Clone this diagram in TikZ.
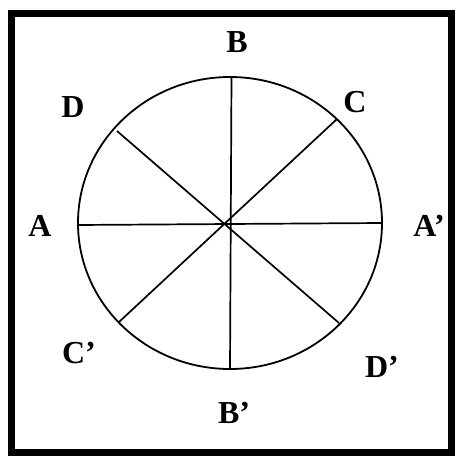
\documentclass[tikz,border=0pt]{standalone}
\usepackage{fontspec}
\setmainfont{Liberation Serif}
\usepackage{tikz}
\usetikzlibrary{positioning}

\begin{document}
\begin{tikzpicture}[x=1pt,y=-1pt,lbl/.style={font=\bfseries\fontsize{32}{32}\selectfont,inner sep=0pt},spoke/.style={line width=1.7pt},rim/.style={line width=1.8pt}]
\useasboundingbox (0,0) rectangle (457,457);
\draw[line width=7pt] (11.5,13.5) rectangle (451.5,452);
% circle and the points on it
\coordinate (o) at (229,224);
\draw[rim] (230,223) ellipse [x radius=152,y radius=146];
\coordinate (a) at (78,225);\coordinate (ap) at (382,223);
\coordinate (b) at (231.5,77);\coordinate (bp) at (230,369);
\coordinate (c) at (337,119);\coordinate (cp) at (119,322);
\coordinate (d) at (117,131);\coordinate (dp) at (339,323);
\draw[spoke] (a)--(ap);\draw[spoke] (b)--(bp);
\draw[spoke] (c)--(cp);\draw[spoke] (d)--(dp);
% letters
\node[lbl] (la) at (40,226) {A};
\node[lbl] (lap) at (429,226) {A'};
\node[lbl] (lb) at (237,42) {B};
\node[lbl] (lbp) at (234,413) {B'};
\node[lbl] (lc) at (355,102) {C};
\node[lbl] (lcp) at (79,353) {C'};
\node[lbl] (ld) at (73,107) {D};
\node[lbl] (ldp) at (382,367) {D'};
\end{tikzpicture}
\end{document}
